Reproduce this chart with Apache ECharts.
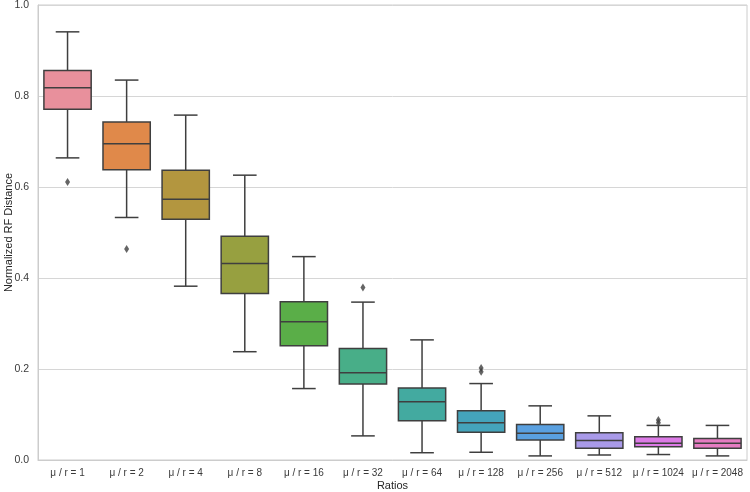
<!DOCTYPE html>
<html>
<head>
<meta charset="utf-8">
<script src="https://cdn.jsdelivr.net/npm/echarts@6/dist/echarts.min.js"></script>
<style>html,body{margin:0;padding:0;background:#fff}#c{width:750px;height:492px}</style>
</head>
<body>
<div id="c"></div>
<script>
const categories = ['μ / r = 1','μ / r = 2','μ / r = 4','μ / r = 8','μ / r = 16','μ / r = 32','μ / r = 64','μ / r = 128','μ / r = 256','μ / r = 512','μ / r = 1024','μ / r = 2048'];
const whiskerLow  = [0.664, 0.533, 0.382, 0.238, 0.157, 0.053, 0.016, 0.017, 0.009, 0.011, 0.012, 0.009];
const q1          = [0.771, 0.638, 0.529, 0.366, 0.251, 0.167, 0.086, 0.061, 0.044, 0.026, 0.029, 0.026];
const median      = [0.818, 0.695, 0.573, 0.432, 0.304, 0.192, 0.128, 0.082, 0.059, 0.043, 0.037, 0.037];
const q3          = [0.856, 0.743, 0.637, 0.492, 0.348, 0.245, 0.158, 0.108, 0.078, 0.060, 0.051, 0.047];
const whiskerHigh = [0.941, 0.835, 0.758, 0.626, 0.447, 0.347, 0.264, 0.168, 0.119, 0.097, 0.076, 0.076];
const outlierCats = [0, 1, 5, 7, 7, 10, 10];
const outlierVals = [0.611, 0.464, 0.379, 0.194, 0.202, 0.082, 0.088];
const yTicks = [0, 0.2, 0.4, 0.6, 0.8, 1.0];
const boxColors = ['#e8909c','#e0894a','#b3963f','#97a040','#5aae48','#48ae88','#43aaa0','#44a4bb','#5aa0e0','#a99ae9','#dc7ae6','#e67cc2'];

const boxData = categories.map((c, i) => [i, whiskerLow[i], q1[i], median[i], q3[i], whiskerHigh[i]]);
const outData = outlierCats.map((c, i) => [c, outlierVals[i]]);
const edge = '#3f3f3f';
const FONT = '"Liberation Sans", Arial, sans-serif';

const chart = echarts.init(document.getElementById('c'), null, {renderer: 'canvas'});
chart.setOption({
  animation: false,
  backgroundColor: '#ffffff',
  grid: {left: 38, right: 3, top: 5, bottom: 32, containLabel: false, outerBoundsMode: 'none',
         show: true, borderColor: '#cccccc', borderWidth: 1},
  xAxis: {
    type: 'category', data: categories, boundaryGap: true,
    name: 'Ratios', nameLocation: 'middle', nameGap: 20, nameMoveOverlap: false,
    nameTextStyle: {fontFamily: FONT, fontSize: 11, color: '#262626'},
    axisLine: {show: true, lineStyle: {color: '#cccccc', width: 1}},
    axisTick: {show: false},
    axisLabel: {fontFamily: FONT, fontSize: 10, color: '#3a3a3a', margin: 8, interval: 0},
    splitLine: {show: false}
  },
  yAxis: {
    type: 'value', min: yTicks[0], max: yTicks[yTicks.length - 1], interval: 0.2,
    name: 'Normalized RF Distance', nameLocation: 'middle', nameGap: 24, nameRotate: 90, nameMoveOverlap: false,
    nameTextStyle: {fontFamily: FONT, fontSize: 11, color: '#262626'},
    axisLine: {show: true, lineStyle: {color: '#cccccc', width: 1}},
    axisTick: {show: false},
    axisLabel: {fontFamily: FONT, fontSize: 10.5, color: '#3a3a3a', margin: 9, formatter: v => v.toFixed(1)},
    splitLine: {show: true, lineStyle: {color: '#d6d6d6', width: 1}}
  },
  series: [
    {
      type: 'custom',
      data: boxData,
      encode: {x: 0, y: [1, 2, 3, 4, 5]},
      renderItem: function (params, api) {
        const idx = api.value(0);
        const pLow = api.coord([idx, api.value(1)]);
        const pQ1 = api.coord([idx, api.value(2)]);
        const pMed = api.coord([idx, api.value(3)]);
        const pQ3 = api.coord([idx, api.value(4)]);
        const pHigh = api.coord([idx, api.value(5)]);
        const bw = api.size([1, 0])[0] * 0.8;
        const cx = pMed[0];
        const h = bw / 2, c = bw / 4;
        const ls = {stroke: edge, lineWidth: 1.5, fill: null};
        return {
          type: 'group',
          children: [
            {type: 'line', shape: {x1: cx, y1: pQ1[1], x2: cx, y2: pLow[1]}, style: ls},
            {type: 'line', shape: {x1: cx, y1: pQ3[1], x2: cx, y2: pHigh[1]}, style: ls},
            {type: 'line', shape: {x1: cx - c, y1: pLow[1], x2: cx + c, y2: pLow[1]}, style: ls},
            {type: 'line', shape: {x1: cx - c, y1: pHigh[1], x2: cx + c, y2: pHigh[1]}, style: ls},
            {type: 'rect', shape: {x: cx - h, y: pQ3[1], width: bw, height: pQ1[1] - pQ3[1]},
             style: {fill: boxColors[idx], stroke: edge, lineWidth: 1.5}},
            {type: 'line', shape: {x1: cx - h, y1: pMed[1], x2: cx + h, y2: pMed[1]}, style: ls}
          ]
        };
      },
      z: 2
    },
    {
      type: 'scatter',
      data: outData,
      symbol: 'diamond',
      symbolSize: [5, 8],
      itemStyle: {color: edge},
      z: 3
    }
  ]
});
</script>
</body>
</html>
